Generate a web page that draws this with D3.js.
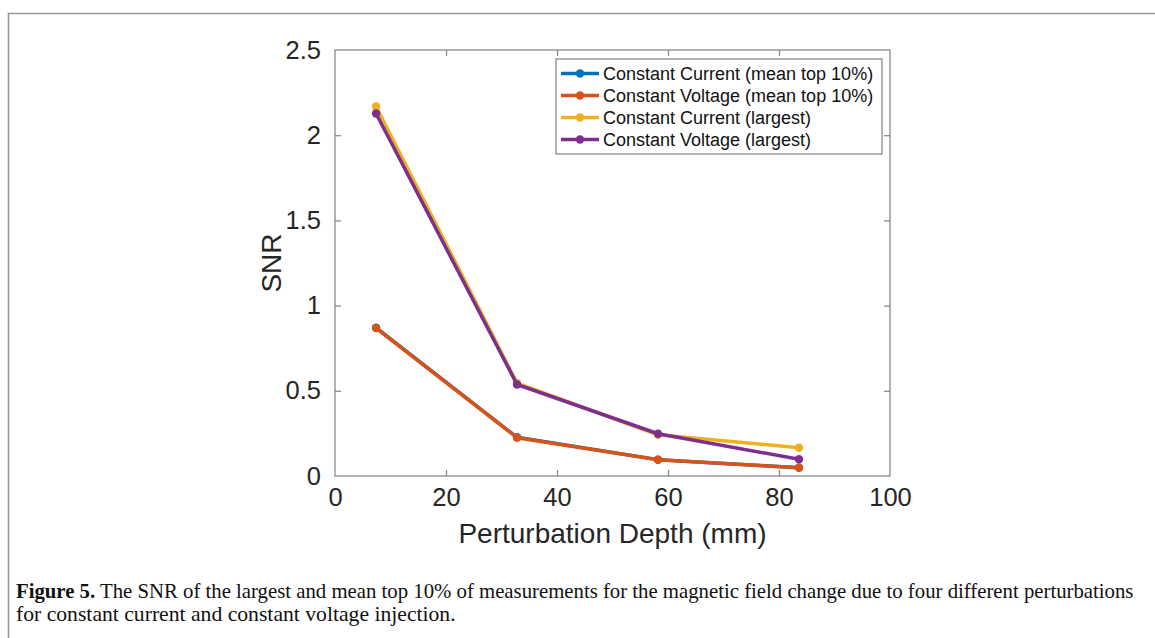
<!DOCTYPE html>
<html>
<head>
<meta charset="utf-8">
<script src="https://cdn.jsdelivr.net/npm/d3@7"></script>
<style>
  html, body { margin: 0; padding: 0; background: #fff; }
  svg { display: block; }
</style>
</head>
<body>
<svg id="chart" width="1155" height="638"></svg>
<script>
// ---- data ----
const depths = [7.4, 32.8, 58.2, 83.6];
const ccMean = [0.870, 0.227, 0.096, 0.049];
const cvMean = [0.868, 0.225, 0.095, 0.048];
const ccLargest = [2.168, 0.545, 0.242, 0.166];
const cvLargest = [2.127, 0.537, 0.248, 0.098];
const seriesNames = [
  "Constant Current (mean top 10%)",
  "Constant Voltage (mean top 10%)",
  "Constant Current (largest)",
  "Constant Voltage (largest)"
];
const seriesColors = ["#0072BD", "#D95319", "#EDB120", "#7E2F8E"];
const xTicks = [0, 20, 40, 60, 80, 100];
const yTicks = [0, 0.5, 1, 1.5, 2, 2.5];
const xLabel = "Perturbation Depth (mm)";
const yLabel = "SNR";
const captionBold = "Figure 5.";
const captionLine1 = " The SNR of the largest and mean top 10% of measurements for the magnetic field change due to four different perturbations";
const captionLine2 = "for constant current and constant voltage injection.";

const seriesValues = [ccMean, cvMean, ccLargest, cvLargest];

// ---- layout ----
const svg = d3.select("#chart");
const L = 335, T = 50, W = 555, H = 426;
const axisColor = "#8a8a8a";
const textColor = "#262626";
const font = "'Liberation Sans', Arial, Helvetica, sans-serif";

// figure frame (top and left edges)
svg.append("path")
  .attr("d", "M8.5,638 L8.5,13.5 L1155,13.5")
  .attr("fill", "none").attr("stroke", "#9a9a9a").attr("stroke-width", 1.6);

const x = d3.scaleLinear().domain([0, 100]).range([L, L + W]);
const y = d3.scaleLinear().domain([0, 2.5]).range([T + H, T]);

const g = svg.append("g");

// axes box
g.append("rect").attr("x", L).attr("y", T).attr("width", W).attr("height", H)
  .attr("fill", "none").attr("stroke", axisColor).attr("stroke-width", 1.3);

function styleAxis(sel) {
  sel.select(".domain").remove();
  sel.selectAll(".tick line").attr("stroke", axisColor).attr("stroke-width", 1.3);
  sel.selectAll(".tick text").attr("fill", textColor).attr("font-family", font).attr("font-size", 25.5);
}

const tickLen = 6;
const xAxisB = g.append("g").attr("transform", `translate(0,${T + H})`)
  .call(d3.axisBottom(x).tickValues(xTicks).tickFormat(d3.format("d")).tickSizeInner(-tickLen).tickSizeOuter(0).tickPadding(10));
styleAxis(xAxisB);
xAxisB.selectAll(".tick text").attr("dy", "0.78em");
const xAxisT = g.append("g").attr("transform", `translate(0,${T})`)
  .call(d3.axisTop(x).tickValues(xTicks).tickFormat("").tickSizeInner(-tickLen).tickSizeOuter(0));
styleAxis(xAxisT);
const yAxisL = g.append("g").attr("transform", `translate(${L},0)`)
  .call(d3.axisLeft(y).tickValues(yTicks).tickFormat(d => d3.format("")(d)).tickSizeInner(-tickLen).tickSizeOuter(0).tickPadding(14));
styleAxis(yAxisL);
const yAxisR = g.append("g").attr("transform", `translate(${L + W},0)`)
  .call(d3.axisRight(y).tickValues(yTicks).tickFormat("").tickSizeInner(-tickLen).tickSizeOuter(0));
styleAxis(yAxisR);
[xAxisB, xAxisT].forEach(a => a.selectAll(".tick").filter(d => d === 0 || d === 100).select("line").remove());
[yAxisL, yAxisR].forEach(a => a.selectAll(".tick").filter(d => d === 0 || d === 2.5).select("line").remove());

// axis labels
g.append("text").attr("x", x(50)).attr("y", 543)
  .attr("text-anchor", "middle").attr("font-family", font).attr("font-size", 28)
  .attr("fill", textColor).text(xLabel);
g.append("text").attr("transform", `translate(281,${y(1.25)}) rotate(-90)`)
  .attr("text-anchor", "middle").attr("font-family", font).attr("font-size", 28)
  .attr("fill", textColor).text(yLabel);

// series
const line = d3.line().x(d => x(d[0])).y(d => y(d[1]));
seriesValues.forEach((vals, i) => {
  const pts = depths.map((d, j) => [d, vals[j]]);
  const sg = g.append("g");
  sg.append("path").datum(pts).attr("d", line)
    .attr("fill", "none").attr("stroke", seriesColors[i]).attr("stroke-width", 3.5)
    .attr("stroke-linejoin", "round").attr("stroke-linecap", "round");
  sg.selectAll("circle").data(pts).join("circle")
    .attr("cx", d => x(d[0])).attr("cy", d => y(d[1])).attr("r", 4.2)
    .attr("fill", seriesColors[i]);
});

// legend
const lg = g.append("g");
lg.append("rect").attr("x", 556).attr("y", 59).attr("width", 326).attr("height", 95)
  .attr("fill", "#fff").attr("stroke", axisColor).attr("stroke-width", 1.3);
const rowY = [73.5, 95.5, 117.5, 139.5];
seriesNames.forEach((name, i) => {
  const yy = rowY[i];
  lg.append("line").attr("x1", 561).attr("x2", 599).attr("y1", yy).attr("y2", yy)
    .attr("stroke", seriesColors[i]).attr("stroke-width", 3.5);
  lg.append("circle").attr("cx", 580).attr("cy", yy).attr("r", 4.2).attr("fill", seriesColors[i]);
  lg.append("text").attr("x", 603).attr("y", yy).attr("dy", "0.36em")
    .attr("font-family", font).attr("font-size", 18).attr("fill", "#111").text(name);
});

// caption
const capFont = "'Liberation Serif', 'Times New Roman', serif";
function fitText(sel, x0, targetW) {
  const w = sel.node().getComputedTextLength();
  sel.attr("transform", `translate(${x0},0) scale(${targetW / w},1)`);
}
const c1 = svg.append("text").attr("x", 0).attr("y", 598)
  .attr("font-family", capFont).attr("font-size", 20.5).attr("fill", "#111");
c1.append("tspan").attr("font-weight", "bold").text(captionBold);
c1.append("tspan").text(captionLine1);
fitText(c1, 16, 1118);
const c2 = svg.append("text").attr("x", 0).attr("y", 621)
  .attr("font-family", capFont).attr("font-size", 20.5).attr("fill", "#111")
  .text(captionLine2);
fitText(c2, 16, 440);
</script>
</body>
</html>
